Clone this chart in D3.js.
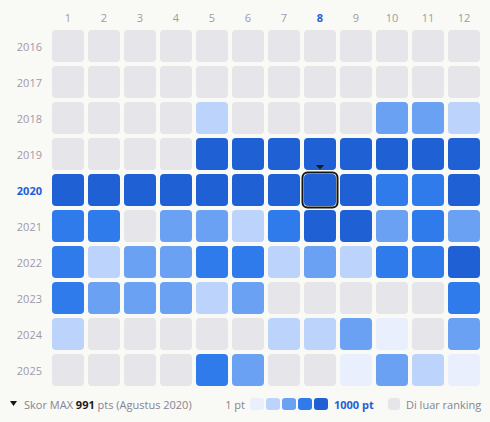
<!DOCTYPE html>
<html><head><meta charset="utf-8">
<script src="https://cdn.jsdelivr.net/npm/d3@7"></script>
<style>
html,body{margin:0;padding:0;background:#f9f9f6;}
svg{display:block;font-family:"Open Sans","Noto Sans",sans-serif;}
</style></head>
<body><svg id="c" width="490" height="422"></svg>
<script>
const months = ["1","2","3","4","5","6","7","8","9","10","11","12"];
const years = [2016,2017,2018,2019,2020,2021,2022,2023,2024,2025];
const _ = null;
const score2016 = [_,_,_,_,_,_,_,_,_,_,_,_];
const score2017 = [_,_,_,_,_,_,_,_,_,_,_,_];
const score2018 = [_,_,_,_,320,_,_,_,_,520,480,300];
const score2019 = [_,_,_,_,870,900,910,930,880,860,850,840];
const score2020 = [900,920,940,960,970,980,985,991,950,760,740,820];
const score2021 = [720,700,_,500,460,260,680,830,810,450,650,470];
const score2022 = [690,280,480,460,700,660,290,440,240,710,680,840];
const score2023 = [650,470,440,420,250,430,_,_,_,_,_,640];
const score2024 = [260,_,_,_,_,_,300,280,500,120,_,460];
const score2025 = [_,_,_,_,720,520,_,_,150,480,300,110];
const scores = [score2016,score2017,score2018,score2019,score2020,score2021,score2022,score2023,score2024,score2025];
const maxYear = 2020, maxMonth = "8", maxScore = 991;
const legendMin = "1 pt", legendMax = "1000 pt", legendOut = "Di luar ranking";

const palette = ["#e9effd","#bcd3fb","#6aa1f3","#2f7bec","#1f61d5"];
const grayFill = "#e6e6ea";
const blue = "#1f5fd6";

const svg = d3.select("#c");
const x = d3.scaleBand().domain(months).range([52,480]).paddingInner(4/36).paddingOuter(0);
const y = d3.scaleBand().domain(years).range([30,386]).paddingInner(4/36).paddingOuter(0);
const color = d3.scaleQuantize().domain([1,1000]).range(palette);

// column headers
svg.append("g").selectAll("text").data(months).join("text")
  .attr("x", d => x(d) + x.bandwidth()/2).attr("y", 17)
  .attr("text-anchor","middle").attr("dominant-baseline","central")
  .attr("font-size", 11)
  .attr("font-weight", d => d === maxMonth ? 700 : 400)
  .attr("fill", d => d === maxMonth ? blue : "#9c9ca6")
  .text(d => d);

// row labels
svg.append("g").selectAll("text").data(years).join("text")
  .attr("x", 42).attr("y", d => y(d) + y.bandwidth()/2)
  .attr("text-anchor","end").attr("dominant-baseline","central")
  .attr("font-size", 11)
  .attr("font-weight", d => d === maxYear ? 700 : 400)
  .attr("fill", d => d === maxYear ? blue : "#a09aa6")
  .text(d => d);

// cells
const cells = [];
years.forEach((yr,i) => months.forEach((m,j) => cells.push({yr, m, v: scores[i][j]})));
svg.append("g").selectAll("rect").data(cells).join("rect")
  .attr("x", d => x(d.m)).attr("y", d => y(d.yr))
  .attr("width", x.bandwidth()).attr("height", y.bandwidth())
  .attr("rx", 4)
  .attr("fill", d => d.v == null ? grayFill : color(d.v));

// max highlight
const mx = x(maxMonth), my = y(maxYear);
svg.append("rect").attr("x", mx-1.5).attr("y", my-1.5)
  .attr("width", x.bandwidth()+3).attr("height", y.bandwidth()+3)
  .attr("rx", 5).attr("fill","none").attr("stroke","#161616").attr("stroke-width",2);
const cx = mx + x.bandwidth()/2;
svg.append("path").attr("d", `M${cx-4},${my-9}L${cx+4},${my-9}L${cx},${my-4.5}Z`).attr("fill","#161616");

// legend
const ly = 404;
svg.append("path").attr("d", `M10,${ly-3}L17,${ly-3}L13.5,${ly+2}Z`).attr("fill","#161616");
const t = svg.append("text").attr("x",24).attr("y",ly).attr("dominant-baseline","central")
  .attr("font-size",11).attr("fill","#858591");
t.append("tspan").text("Skor MAX ");
t.append("tspan").attr("font-weight",700).attr("fill","#1a1a1a").text(maxScore);
t.append("tspan").text(" pts (Agustus 2020)");

svg.append("text").attr("x",245).attr("y",ly).attr("text-anchor","end").attr("dominant-baseline","central")
  .attr("font-size",11).attr("fill","#858591").text(legendMin);
svg.append("g").selectAll("rect").data(palette).join("rect")
  .attr("x",(d,i)=>250+i*16).attr("y",ly-6).attr("width",14).attr("height",12).attr("rx",3)
  .attr("fill",d=>d);
svg.append("text").attr("x",334).attr("y",ly).attr("dominant-baseline","central")
  .attr("font-size",11).attr("font-weight",700).attr("fill",blue).text(legendMax);
svg.append("rect").attr("x",388).attr("y",ly-6).attr("width",12).attr("height",12).attr("rx",3).attr("fill",grayFill);
svg.append("text").attr("x",406).attr("y",ly).attr("dominant-baseline","central")
  .attr("font-size",11).attr("fill","#858591").text(legendOut);
</script></body></html>
